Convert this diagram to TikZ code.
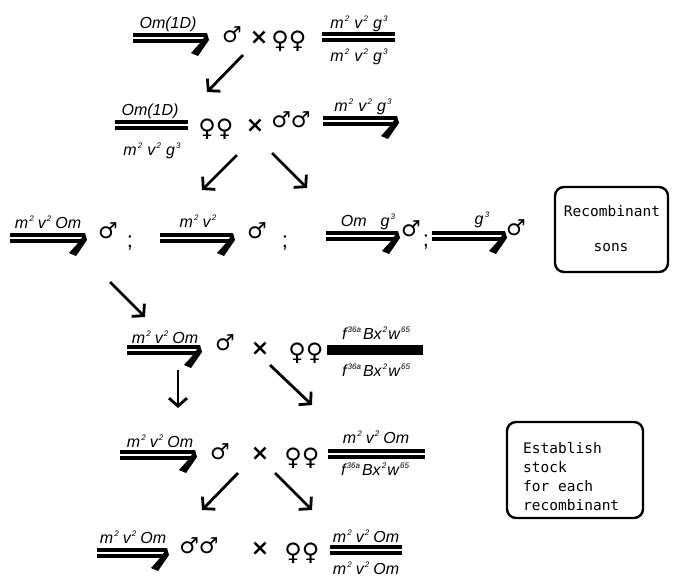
\documentclass[tikz,border=0pt]{standalone}
\usepackage{fontspec}
\setmainfont{Liberation Sans}
\newfontfamily\symf{DejaVu Sans}
\newfontfamily\boxf{DejaVu Sans Mono}
\usetikzlibrary{arrows.meta}
\newcommand\supx[1]{\kern1.2pt\raisebox{7pt}{\fontsize{8}{8}\selectfont #1}}
\newcommand\mvg{m\supx{2}\hspace{5pt}v\supx{2}\hspace{5pt}g\supx{3}}
\newcommand\mvo{m\supx{2}\hspace{4pt}v\supx{2}\hspace{4pt}Om}
\newcommand\fbw{f\supx{36a}\hspace{2pt}Bx\supx{2}\hspace{1pt}w\supx{65}}
\newcommand\dbar[3]{%
  \fill (#1,#3-5) rectangle (#2,#3+5);
  \draw[white, line width=1.1pt] (#1,#3) -- (#2,#3);}
\newcommand\hookbar[3]{%
  \dbar{#1}{#2}{#3}
  \fill (#2,#3-5) -- (#2+2,#3+2) -- (#2-9,#3+18) -- (#2-16,#3+15) -- (#2-7,#3+5) -- cycle;}
\begin{document}
\begin{tikzpicture}[x=1pt,y=-1pt,
  lab/.style={font=\itshape\fontsize{16}{16}\selectfont, inner sep=0, anchor=base},
  sym/.style={font=\symf\fontsize{22}{22}\selectfont, inner sep=0},
  fem/.style={font=\symf\fontsize{24}{24}\selectfont, inner sep=0},
  crs/.style={font=\symf\bfseries\fontsize{22}{22}\selectfont, inner sep=0},
  semi/.style={font=\fontsize{22}{22}\selectfont, inner sep=0},
  arr/.style={line width=2.8pt, -{Straight Barb[length=8pt,width=18pt]}},
  notebox/.style={draw, line width=2.4pt, rounded corners=9pt},
  btext/.style={font=\boxf\fontsize{14.5}{14.5}\selectfont, inner sep=0},
  boxtext/.style={btext, anchor=base west}]
\useasboundingbox (0,0) rectangle (679,579);

% ---------- Row 1
\hookbar{133}{207}{38}
\node[lab] (r1ll) at (168,28) {Om(1D)};
\node[sym] (r1m) at (232,35) {♂};
\node[crs] (r1x) at (259,38) {×};
\node[fem] (r1f) at (289,41) {♀♀};
\dbar{322}{395}{37}
\node[lab] (r1rt) at (359,28) {\mvg};
\node[lab] (r1rb) at (359,61) {\mvg};

\coordinate (a1s) at (243,55);
\coordinate (a1e) at (207,92);
\draw[arr] (a1s) -- (a1e);

% ---------- Row 2
\dbar{115}{188}{125}
\node[lab] (r2lt) at (150,115) {Om(1D)};
\node[lab] (r2lb) at (152,155) {\mvg};
\node[fem] (r2f) at (216,129) {♀♀};
\node[crs] (r2x) at (255,126) {×};
\node[sym] (r2m) at (291,120) {♂♂};
\hookbar{323}{397}{121}
\node[lab] (r2rt) at (363,111) {\mvg};

\coordinate (a2s) at (237,155);
\coordinate (a2e) at (202,190);
\coordinate (a3s) at (272,153);
\coordinate (a3e) at (307,188);
\draw[arr] (a2s) -- (a2e);
\draw[arr] (a3s) -- (a3e);

% ---------- Row 3
\hookbar{10}{85}{238}
\node[lab] (r3l1) at (48,228) {\mvo};
\node[sym] (r3m1) at (108,231) {♂};
\node[semi] (r3s1) at (130,243) {;};
\hookbar{160}{233}{238}
\node[lab] (r3l2) at (198,227) {m\supx{2}\hspace{4pt}v\supx{2}};
\node[sym] (r3m2) at (257,231) {♂};
\node[semi] (r3s2) at (285,243) {;};
\hookbar{326}{398}{236}
\node[lab] (r3l3) at (368,226) {Om\hspace{14pt}g\supx{3}};
\node[sym] (r3m3) at (411,229) {♂};
\node[semi] (r3s3) at (426,242) {;};
\hookbar{432}{505}{236}
\node[lab] (r3l4) at (482,224) {g\supx{3}};
\node[sym] (r3m4) at (516,228) {♂};
\draw[notebox] (555,187) rectangle (668,272);
\node[btext] (rs1) at (612,211) {Recombinant};
\node[btext] (rs2) at (611,248) {sons};

\coordinate (a4s) at (110,282);
\coordinate (a4e) at (145,317);
\draw[arr] (a4s) -- (a4e);

% ---------- Row 4
\hookbar{127}{200}{350}
\node[lab] (r4l) at (165,343) {\mvo};
\node[sym] (r4m) at (225,343) {♂};
\node[crs] (r4x) at (260,349) {×};
\node[fem] (r4f) at (306,353) {♀♀};
\fill (327,345) rectangle (423,355);
\node[lab] (r4rt) at (376,339) {\fbw};
\node[lab] (r4rb) at (376,376) {\fbw};

\coordinate (a5s) at (178,370);
\coordinate (a5e) at (178,408);
\coordinate (a6s) at (270,365);
\coordinate (a6e) at (312,405);
\draw[arr] (a5s) -- (a5e);
\draw[arr] (a6s) -- (a6e);

% ---------- Row 5
\hookbar{120}{195}{455}
\node[lab] (r5l) at (160,447) {\mvo};
\node[sym] (r5m) at (220,452) {♂};
\node[crs] (r5x) at (260,454) {×};
\node[fem] (r5f) at (302,458) {♀♀};
\dbar{328}{425}{454}
\node[lab] (r5rt) at (376,443) {\mvo};
\node[lab] (r5rb) at (375,475) {\fbw};
\draw[notebox] (507,422) rectangle (643,518);
\node[boxtext] (e1) at (523,453) {Establish};
\node[boxtext] (e2) at (523,472) {stock};
\node[boxtext] (e3) at (523,491) {for each};
\node[boxtext] (e4) at (523,510) {recombinant};

\coordinate (a7s) at (238,473);
\coordinate (a7e) at (202,510);
\coordinate (a8s) at (275,473);
\coordinate (a8e) at (312,510);
\draw[arr] (a7s) -- (a7e);
\draw[arr] (a8s) -- (a8e);

% ---------- Row 6
\hookbar{97}{167}{553}
\node[lab] (r6l) at (133,543) {\mvo};
\node[sym] (r6m) at (199,546) {♂♂};
\node[crs] (r6x) at (260,549) {×};
\node[fem] (r6f) at (302,553) {♀♀};
\dbar{330}{402}{550}
\node[lab] (r6rt) at (366,542) {\mvo};
\node[lab] (r6rb) at (366,574) {\mvo};
\end{tikzpicture}
\end{document}
